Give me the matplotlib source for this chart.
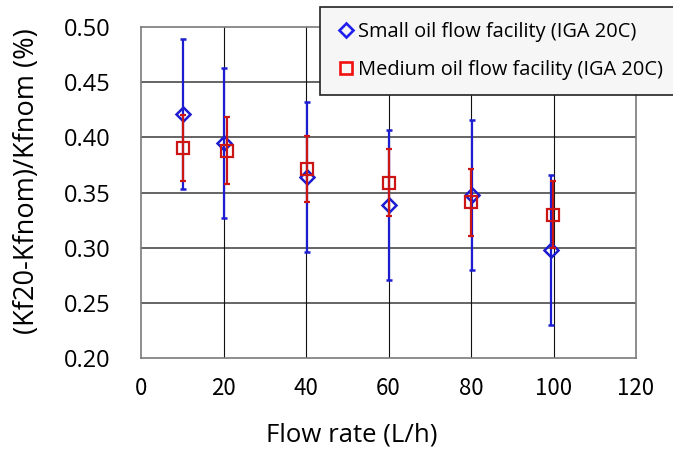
import numpy as np
import matplotlib
matplotlib.use('Agg')
import matplotlib.pyplot as plt
from matplotlib.lines import Line2D

# Small oil flow facility (IGA 20C)
small_x = [10.2, 20.0, 40.3, 60.0, 80.2, 99.5]
small_y = [0.421, 0.395, 0.364, 0.339, 0.348, 0.298]
small_err = [0.068, 0.068, 0.068, 0.068, 0.068, 0.068]

# Medium oil flow facility (IGA 20C)
medium_x = [10.2, 20.8, 40.3, 60.0, 80.0, 99.9]
medium_y = [0.390, 0.388, 0.371, 0.359, 0.341, 0.330]
medium_err = [0.030, 0.030, 0.030, 0.030, 0.030, 0.030]

labels = ['Small oil flow facility (IGA 20C)', 'Medium oil flow facility (IGA 20C)']
x_ticks = [0, 20, 40, 60, 80, 100, 120]
y_ticks = [0.20, 0.25, 0.30, 0.35, 0.40, 0.45, 0.50]

blue = '#1c1cd0'
red = '#cc1616'

fig = plt.figure(figsize=(6.73, 4.51), dpi=100)
ax = fig.add_axes([141/673, 1 - 358/451, 495/673, 331/451])

ax.errorbar(small_x, small_y, yerr=small_err, fmt='D', color=blue, ms=6.8,
            mfc='none', mec=blue, mew=1.8, elinewidth=1.6, capsize=2.2, capthick=1.4,
            zorder=3)
ax.errorbar(medium_x, medium_y, yerr=medium_err, fmt='s', color=red, ms=8.5,
            mfc='none', mec=red, mew=1.6, elinewidth=1.6, capsize=2.2, capthick=1.4,
            zorder=4)

ax.set_xlim(0, 120)
ax.set_ylim(0.20, 0.50)
ax.set_xticks(x_ticks)
ax.set_yticks(y_ticks)
ax.set_yticklabels(['%.2f' % v for v in y_ticks], family='Open Sans', fontsize=17)
ax.set_xticklabels([str(v) for v in x_ticks], family='Noto Sans CJK JP', fontsize=16)
ax.tick_params(axis='both', length=0)
ax.tick_params(axis='y', pad=22)
ax.tick_params(axis='x', pad=14)

for y in y_ticks[1:-1]:
    ax.axhline(y, color='#3a3a3a', lw=1.1, zorder=1)
for x in x_ticks[1:-1]:
    ax.axvline(x, color='#111111', lw=0.8, zorder=1)
for s in ax.spines.values():
    s.set_color('#7a7a7a')
    s.set_linewidth(1.2)

fig.text(27/673, 1 - 181/451, '(Kf20-Kfnom)/Kfnom (%)', rotation=90,
         ha='center', va='center', family='Open Sans', fontsize=19.5)
fig.text(352/673, 1 - 435/451, 'Flow rate (L/h)', ha='center', va='center',
         family='Open Sans', fontsize=18.5)

handles = [
    Line2D([], [], ls='none', marker='D', ms=7, mfc='none', mec='#2020f0', mew=1.9),
    Line2D([], [], ls='none', marker='s', ms=9, mfc='none', mec='#f01010', mew=1.9),
]
leg = ax.legend(handles, labels, loc='upper left',
                bbox_to_anchor=(320/673, 1 - 7/451), bbox_transform=fig.transFigure,
                prop={'family': 'Open Sans', 'size': 14.4}, frameon=True,
                fancybox=False, framealpha=1, facecolor='#f6f6f6', edgecolor='#222222',
                handlelength=1.1, handletextpad=0.05, labelspacing=0.9,
                borderpad=0.75, borderaxespad=0)
leg.get_frame().set_linewidth(1.2)

fig.savefig('out.png', dpi=100)
